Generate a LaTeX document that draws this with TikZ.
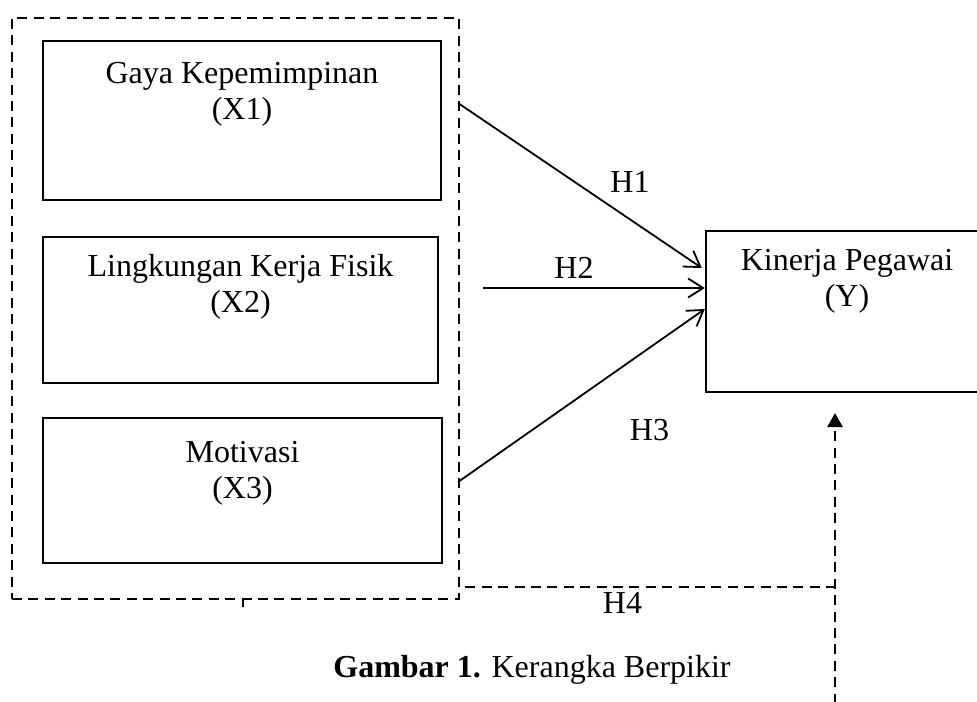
\documentclass[tikz,border=0pt]{standalone}
\usepackage{fontspec}
\setmainfont{Liberation Serif}
\usetikzlibrary{arrows.meta, positioning}

\begin{document}
\begin{tikzpicture}[x=0.5pt, y=-0.5pt, font=\fontsize{16}{18}\selectfont,
    varbox/.style={draw, line width=1.2pt, inner sep=0pt},
    vartext/.style={align=center, inner sep=0pt},
    hyp/.style={line width=0.9pt, -{Straight Barb[length=7.5pt,width=9.5pt]}},
    dashline/.style={line width=1.4pt, dash pattern=on 5pt off 3.2pt}]
  \useasboundingbox (0,0) rectangle (977,701);
  % independent variables
  \node[varbox, minimum width=199pt, minimum height=79.5pt] (x1) at (242,120.5) {};
  \node[varbox, minimum width=197.5pt, minimum height=73pt] (x2) at (240.5,310) {};
  \node[varbox, minimum width=199.5pt, minimum height=72.5pt] (x3) at (242.5,490.5) {};
  \node[vartext, below=11pt of x1.north] (x1text) {Gaya Kepemimpinan\\(X1)};
  \node[vartext, below=9pt of x2.north] (x2text) {Lingkungan Kerja Fisik\\(X2)};
  \node[vartext, below=12pt of x3.north] (x3text) {Motivasi\\(X3)};
  \node[draw, dashline, minimum width=223.5pt, minimum height=290.5pt] (frame) at (235.5,308.5) {};
  \draw[line width=1.4pt] (243,599) -- (243,607);
  % dependent variable
  \node[varbox, minimum width=141pt, minimum height=80.5pt] (ybox) at (847,311.5) {};
  \node[vartext, below=9.5pt of ybox.north] (ytext) {Kinerja Pegawai\\(Y)};
  % hypotheses
  \coordinate (h1s) at (458,103);
  \coordinate (h2s) at (483,288);
  \coordinate (h3s) at (458,482);
  \draw[hyp] (h1s) -- ([xshift=-1.5pt, yshift=21.75pt]ybox.west);
  \draw[hyp] (h2s) -- ([yshift=11.75pt]ybox.west);
  \draw[hyp] (h3s) -- ([yshift=1.25pt]ybox.west);
  \node (h1) at (630,182) {H1};
  \node (h2) at (574,268) {H2};
  \node (h3) at (649.5,430) {H3};
  % simultaneous effect
  \coordinate (h4c) at (835,587);
  \coordinate (h4b) at (835,720);
  \coordinate (h4t) at (835,413);
  \draw[dashline] ([xshift=2.5pt]frame.east |- h4c) -- (h4c);
  \draw[dashline, -{Triangle[length=7pt,width=7.5pt]}] (h4b) -- (h4t);
  \node (h4) at (622.5,603) {H4};
  \node[anchor=base] (caption) at (532,677) {\textbf{Gambar 1.} Kerangka Berpikir};
\end{tikzpicture}
\end{document}
